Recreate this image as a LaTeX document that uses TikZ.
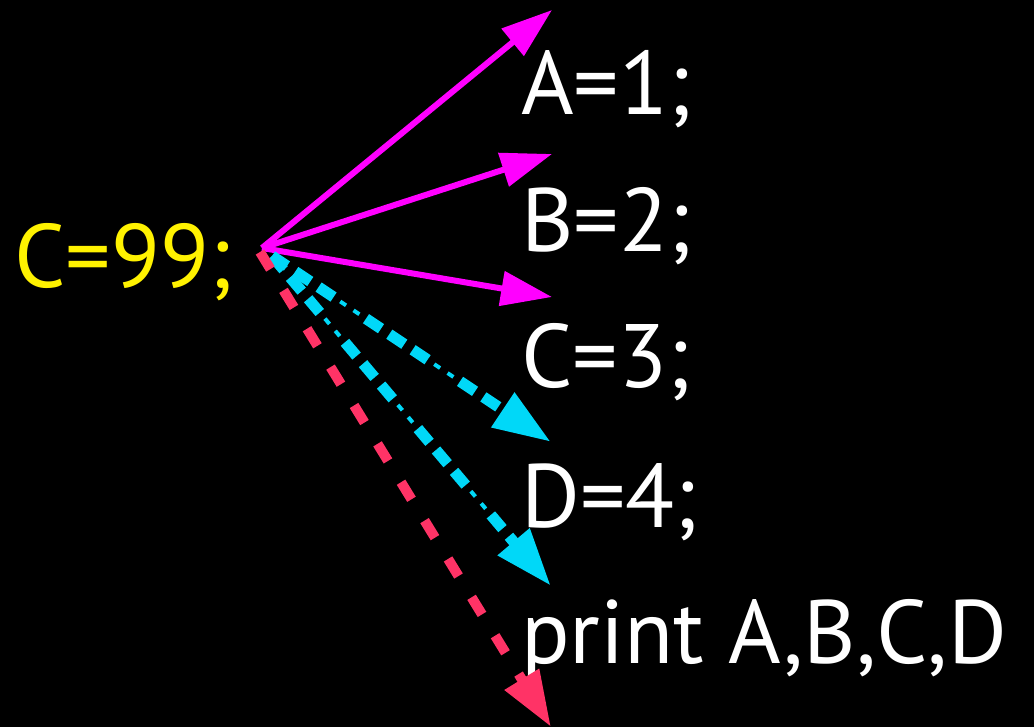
\documentclass[tikz,border=0pt]{standalone}
\usepackage{fontspec}
\setmainfont{PT Sans}
\usetikzlibrary{arrows.meta}
\definecolor{fanpink}{RGB}{255,0,255}
\definecolor{fancyan}{RGB}{0,216,248}
\definecolor{fanred}{RGB}{255,51,102}

\begin{document}
\begin{tikzpicture}[x=1pt,y=-1pt,
  stmt/.style={anchor=base west,inner sep=0pt,text=white,font=\fontsize{90}{100}\selectfont},
  assign/.style={-{Triangle[length=51pt,width=34pt]},fanpink,line width=6pt},
  reuse/.style={-{Triangle[length=58pt,width=39pt]},fancyan,line width=11pt,
    dash pattern=on 18pt off 10pt on 18pt off 10pt on 18pt off 39pt},
  reusedot/.style={fancyan,line width=4pt,shorten >=58pt,
    dash pattern=on 7pt off 9pt on 7pt off 90pt,dash phase=31pt},
  output/.style={-{Triangle[length=56pt,width=38pt]},fanred,line width=10pt,
    dash pattern=on 20pt off 25pt}]
% background
\fill[black] (0,0) rectangle (1034,727);
\useasboundingbox (0,0) rectangle (1034,727);
% statements
\node[stmt,text=yellow] (c99) at (14,288) {C=99;};
\node[stmt] (a1) at (521,115) {A=1;};
\node[stmt] (b2) at (521,252) {B=2;};
\node[stmt] (c3) at (521,388) {C=3;};
\node[stmt] (d4) at (521,527) {D=4;};
\node[stmt] (pr) at (521,663) {print A,B,C,D};
% fan-out points
\coordinate (fan) at (262,248);
\coordinate (fanc) at (272,256);
\coordinate (fanr) at (260,252);
\coordinate (ta) at (552,10);
\coordinate (tb) at (552,154);
\coordinate (tc) at (552,297);
\coordinate (td) at (551,442);
\coordinate (tp) at (551,586);
\coordinate (tx) at (551,727);
% assignments that get overwritten
\draw[assign] (fan) -- (ta);
\draw[assign] (fan) -- (tb);
\draw[assign] (fan) -- (tc);
% C=99 reaching D=4 and print
\draw[reuse] (fanc) -- (td);
\draw[reusedot] (fanc) -- (td);
\draw[reuse] (fanc) -- (tp);
\draw[reusedot] (fanc) -- (tp);
% output edge
\draw[output] (fanr) -- (tx);
\end{tikzpicture}
\end{document}
